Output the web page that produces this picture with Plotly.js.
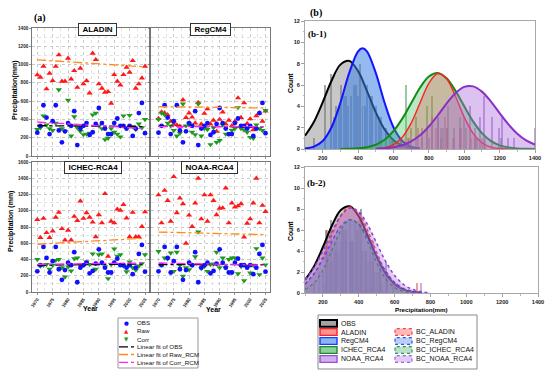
<!DOCTYPE html>
<html><head><meta charset="utf-8">
<script src="https://cdn.plot.ly/plotly-3.0.1.min.js"></script>
<style>html,body{margin:0;padding:0;background:#fff}#chart{width:550px;height:375px}</style>
</head><body><div id="chart"></div>
<script>
// ---------------- DATA: panel (a) ----------------
const years = [1970,1971,1972,1973,1974,1975,1976,1977,1978,1979,1980,1981,1982,1983,1984,1985,1986,1987,1988,1989,1990,1991,1992,1993,1994,1995,1996,1997,1998,1999,2000,2001,2002,2003,2004,2005];
const obs = [255,330,555,420,240,380,555,280,150,270,360,330,490,120,300,330,360,230,260,350,525,360,300,240,240,360,410,330,330,300,330,220,300,470,580,250];

const aladinRaw  = [886,860,981,733,904,824,980,1105,817,817,1068,842,933,750,959,788,824,689,1123,1054,788,740,696,703,576,890,817,776,890,970,915,1043,740,788,853,981];
const aladinCorr = [290,310,440,340,300,280,360,725,300,270,610,220,430,310,270,235,240,250,450,470,330,300,180,195,300,260,240,210,440,300,445,320,290,350,310,400];
const regcmRaw   = [410,480,470,450,380,350,340,325,615,420,470,425,360,585,350,465,515,350,390,270,400,480,350,390,330,380,635,420,580,355,405,285,440,470,380,490];
const regcmCorr  = [400,470,450,360,330,280,220,250,570,330,350,260,235,570,220,300,290,125,310,150,170,340,240,240,280,300,530,300,285,260,205,195,340,300,280,500];
const ichecRaw   = [890,670,905,730,670,750,920,980,780,640,760,640,930,880,1120,905,975,920,860,680,950,850,1210,440,870,850,1020,1005,1075,910,680,980,680,680,805,985];
const ichecCorr  = [400,320,330,340,280,330,390,400,300,185,310,260,410,420,330,330,370,340,470,280,460,470,310,165,340,530,440,460,320,250,370,300,270,320,350,460];
const noaaRaw    = [1195,850,1250,1125,870,1420,975,1155,1085,600,945,805,1095,1400,900,1195,870,1195,1125,950,1030,1035,1280,850,1095,1045,1060,1085,675,845,900,1095,1400,850,1065,990];
const noaaCorr   = [500,335,420,410,480,255,490,330,195,300,275,330,435,740,290,315,255,340,345,490,300,420,300,400,420,420,225,315,140,320,235,330,535,215,420,335];

// linear fit end points
const fitYears = [1970, 2005];
const aladinFitObs = [332, 322], aladinFitRaw = [1052, 975], aladinFitCorr = [372, 300];
const regcmFitObs  = [326, 318], regcmFitRaw  = [540, 525],  regcmFitCorr  = [322, 322];
const ichecFitObs  = [330, 345], ichecFitRaw  = [588, 662],  ichecFitCorr  = [340, 358];
const noaaFitObs   = [336, 336], noaaFitRaw   = [738, 706],  noaaFitCorr   = [357, 330];

const panelNames = ['ALADIN', 'RegCM4', 'ICHEC-RCA4', 'NOAA-RCA4'];

// ---------------- DATA: panel (b) ----------------
// b-1 histogram bars (bin centre, count)
const obsBarX = [150,215,245,275,305,330,360,390,410,440,480,520,555,590];
const obsBarY = [1,6,7,4,6,5,5,6,8,4,5,3,2,1];
const regBarX = [265,290,320,345,375,400,425,450,470,500,530,560,600,640];
const regBarY = [3,4,5,4,6,5,4,6,5,4,3,2,1,1];
const ichecBarX = [640,670,700,730,760,790,820,850,880,910,940,975,1010,1070,1210];
const ichecBarY = [1,6,2,3,2,4,5,3,2,4,2,3,2,1,1];
const aladinBarX = [580,690,740,760,790,820,840,870,890,905,935,980,1040,1060,1100,1120];
const aladinBarY = [1,1,2,1,2,3,2,1,3,2,1,2,1,1,1,1];
const noaaBarX = [600,680,800,850,870,900,945,975,1000,1030,1060,1090,1110,1155,1195,1215,1250,1280,1400];
const noaaBarY = [1,1,1,3,2,2,1,2,3,4,2,3,5,3,2,3,1,1,2];

// b-1 fitted curves
const obsCurveX = [100,150,200,250,300,350,400,450,500,550,600,650,700,750];
const obsCurveY = [1.24,2.53,4.38,6.40,7.91,8.26,7.30,5.45,3.44,1.83,0.83,0.32,0.10,0.03];
const regCurveX = [100,150,200,250,300,350,400,425,450,500,550,600,650,700,750];
const regCurveY = [0.05,0.22,0.75,2.04,4.33,7.13,9.16,9.45,9.16,7.13,4.33,2.04,0.75,0.22,0.05];
const ichecCurveX = [300,350,400,450,500,550,600,650,700,750,800,850,900,950,1000,1050,1100,1150,1200,1250,1300,1350,1400];
const ichecCurveY = [0.01,0.02,0.06,0.17,0.40,0.87,1.68,2.85,4.29,5.74,6.79,7.12,6.63,5.47,4.00,2.59,1.49,0.76,0.34,0.14,0.05,0.02,0.00];
const aladinCurveX = [500,550,600,650,700,750,800,850,900,950,1000,1050,1100,1150,1200,1250];
const aladinCurveY = [0.03,0.12,0.41,1.11,2.43,4.31,6.15,7.08,6.58,4.94,2.99,1.46,0.58,0.18,0.05,0.01];
const noaaCurveX = [500,550,600,650,700,750,800,850,900,950,1000,1050,1100,1150,1200,1250,1300,1350,1400];
const noaaCurveY = [0.02,0.07,0.16,0.35,0.71,1.28,2.11,3.14,4.26,5.22,5.82,5.87,5.38,4.47,3.37,2.30,1.43,0.80,0.41];

// b-2 bias-corrected bars
const bcAladinBarX = [222,260,300,330,360,400,440,480,520,723];
const bcAladinBarY = [6,4,5,6,5,7,4,3,2,1];
const bcRegBarX = [200,240,280,320,350,380,420,460,500,553,616];
const bcRegBarY = [2,3,5,6,5,7,4,4,2,3,1];
const bcIchecBarX = [210,250,290,330,370,410,450,490,530];
const bcIchecBarY = [1,3,4,6,5,5,3,2,1];
const bcNoaaBarX = [180,230,270,310,350,390,430,470,510,560,745];
const bcNoaaBarY = [2,4,5,6,7,5,4,3,2,1,1];

// b-2 fitted curves
const bcAladinCurveX = [100,150,200,250,300,350,400,450,500,550,600,650,700,750];
const bcAladinCurveY = [0.79,1.81,3.46,5.52,7.36,8.19,7.62,5.93,3.85,2.09,0.95,0.36,0.11,0.03];
const bcRegCurveX = [100,150,200,250,300,350,400,450,500,550,600,650,700,750];
const bcRegCurveY = [0.87,1.82,3.24,4.92,6.35,6.99,6.56,5.24,3.57,2.07,1.03,0.43,0.16,0.05];
const bcIchecCurveX = [100,150,200,250,300,350,400,450,500,550,600,650,700];
const bcIchecCurveY = [0.33,0.95,2.19,4.04,5.95,6.97,6.51,4.85,2.88,1.36,0.51,0.15,0.04];
const bcNoaaCurveX = [100,150,200,250,300,350,400,450,500,550,600,650,700,750,800];
const bcNoaaCurveY = [1.27,2.41,4.01,5.81,7.34,8.08,7.75,6.49,4.73,3.01,1.67,0.81,0.34,0.12,0.04];

// ---------------- helpers ----------------
const W = 550, H = 375;
const PX = p => p / W, PY = p => 1 - p / H;
const SANS = 'Liberation Sans, Arial, sans-serif';
const SERIF = 'Liberation Serif, Times New Roman, serif';

const traces = [];
const panels = [
  {raw: aladinRaw, corr: aladinCorr, fo: aladinFitObs, fr: aladinFitRaw, fc: aladinFitCorr, xa: 'x',  ya: 'y'},
  {raw: regcmRaw,  corr: regcmCorr,  fo: regcmFitObs,  fr: regcmFitRaw,  fc: regcmFitCorr,  xa: 'x2', ya: 'y2'},
  {raw: ichecRaw,  corr: ichecCorr,  fo: ichecFitObs,  fr: ichecFitRaw,  fc: ichecFitCorr,  xa: 'x3', ya: 'y3'},
  {raw: noaaRaw,   corr: noaaCorr,   fo: noaaFitObs,   fr: noaaFitRaw,   fc: noaaFitCorr,   xa: 'x4', ya: 'y4'}
];
panels.forEach(p => {
  traces.push({x: years, y: p.raw, type: 'scatter', mode: 'markers', xaxis: p.xa, yaxis: p.ya,
    marker: {symbol: 'triangle-up', size: 5.5, color: '#ff1a1a', line: {width: 0}}});
  traces.push({x: years, y: p.corr, type: 'scatter', mode: 'markers', xaxis: p.xa, yaxis: p.ya,
    marker: {symbol: 'triangle-down', size: 5.5, color: '#1e9a1e', line: {width: 0}}});
  traces.push({x: years, y: obs, type: 'scatter', mode: 'markers', xaxis: p.xa, yaxis: p.ya,
    marker: {symbol: 'circle', size: 4.8, color: '#1010ff', line: {width: 0}}});
  traces.push({x: fitYears, y: p.fo, type: 'scatter', mode: 'lines', xaxis: p.xa, yaxis: p.ya,
    line: {color: '#000', width: 1.3, dash: 'dashdot'}});
  traces.push({x: fitYears, y: p.fr, type: 'scatter', mode: 'lines', xaxis: p.xa, yaxis: p.ya,
    line: {color: '#ff8c1a', width: 1.3, dash: 'dashdot'}});
  traces.push({x: fitYears, y: p.fc, type: 'scatter', mode: 'lines', xaxis: p.xa, yaxis: p.ya,
    line: {color: '#ff22ff', width: 1.3, dash: 'dashdot'}});
});

function bars(x, y, color, xa, ya) {
  traces.push({x: x, y: y, type: 'bar', width: 11, xaxis: xa, yaxis: ya,
    marker: {color: color, line: {width: 0}}});
}
function curve(x, y, line, fill, dash, xa, ya, w) {
  traces.push({x: x, y: y, type: 'scatter', mode: 'lines', xaxis: xa, yaxis: ya,
    line: {color: line, width: w || 1.8, shape: 'spline', smoothing: 1, dash: dash || 'solid'},
    fill: 'tozeroy', fillcolor: fill});
}
// b-1
bars(obsBarX, obsBarY, 'rgba(95,95,95,0.55)', 'x5', 'y5');
bars(regBarX, regBarY, 'rgba(40,100,200,0.5)', 'x5', 'y5');
bars(ichecBarX, ichecBarY, 'rgba(40,150,70,0.5)', 'x5', 'y5');
bars(aladinBarX, aladinBarY, 'rgba(220,60,60,0.45)', 'x5', 'y5');
bars(noaaBarX, noaaBarY, 'rgba(140,70,190,0.5)', 'x5', 'y5');
curve(obsCurveX, obsCurveY, '#000000', 'rgba(130,130,130,0.45)', 'solid', 'x5', 'y5', 2);
curve(regCurveX, regCurveY, '#1414ff', 'rgba(60,130,225,0.55)', 'solid', 'x5', 'y5', 2);
curve(ichecCurveX, ichecCurveY, '#138a13', 'rgba(70,195,100,0.38)', 'solid', 'x5', 'y5', 2);
curve(aladinCurveX, aladinCurveY, '#ff2020', 'rgba(235,80,80,0.30)', 'solid', 'x5', 'y5', 1.4);
curve(noaaCurveX, noaaCurveY, '#8a2fc8', 'rgba(170,110,220,0.42)', 'solid', 'x5', 'y5', 2);
// b-2
bars(obsBarX, obsBarY, 'rgba(95,95,95,0.55)', 'x6', 'y6');
bars(bcAladinBarX, bcAladinBarY, 'rgba(220,60,60,0.5)', 'x6', 'y6');
bars(bcRegBarX, bcRegBarY, 'rgba(60,110,190,0.5)', 'x6', 'y6');
bars(bcIchecBarX, bcIchecBarY, 'rgba(60,140,110,0.45)', 'x6', 'y6');
bars(bcNoaaBarX, bcNoaaBarY, 'rgba(140,80,190,0.45)', 'x6', 'y6');
curve(obsCurveX, obsCurveY, '#000000', 'rgba(130,130,130,0.45)', 'solid', 'x6', 'y6', 2);
curve(bcAladinCurveX, bcAladinCurveY, '#ff3030', 'rgba(250,110,120,0.35)', 'dot', 'x6', 'y6', 1.5);
curve(bcRegCurveX, bcRegCurveY, '#2030ff', 'rgba(80,120,220,0.35)', 'dot', 'x6', 'y6', 1.3);
curve(bcIchecCurveX, bcIchecCurveY, '#1a8a3a', 'rgba(80,170,130,0.3)', 'dot', 'x6', 'y6', 1.3);
curve(bcNoaaCurveX, bcNoaaCurveY, '#9040d0', 'rgba(170,110,220,0.35)', 'dot', 'x6', 'y6', 1.5);

// ---------------- axes ----------------
const tfA = {family: SANS, size: 4.6, color: '#222', weight: 'bold'};
function axA(dom, anchor, range, showLabels, isX, dtick) {
  const a = {domain: dom, anchor: anchor, range: range, showline: true, mirror: true, linecolor: '#555', linewidth: 0.8,
    showgrid: true, gridcolor: '#bdbdbd', griddash: 'dot', gridwidth: 0.8, zeroline: false,
    ticks: 'outside', ticklen: 2, tickcolor: '#555', tickwidth: 0.6, tickfont: tfA,
    showticklabels: showLabels, automargin: false, fixedrange: true, layer: 'below traces'};
  if (isX) {
    a.tick0 = 1970; a.dtick = 5; a.tickangle = -55;
    a.minor = {dtick: 2.5, tick0: 1970, showgrid: true, gridcolor: '#d6d6d6', griddash: 'dot', gridwidth: 0.7};
  } else {
    a.tick0 = 0; a.dtick = dtick;
    a.minor = {dtick: 100, showgrid: true, gridcolor: '#d6d6d6', griddash: 'dot', gridwidth: 0.7};
  }
  return a;
}
const tfB = {family: SANS, size: 5.6, color: '#222', weight: 'bold'};
function axB(dom, anchor, range, isX) {
  return {domain: dom, anchor: anchor, range: range, showline: true, mirror: true, linecolor: '#a8a8a8', linewidth: 1,
    showgrid: false, zeroline: false, ticks: 'outside', ticklen: 3, tickcolor: '#777', tickwidth: 0.7,
    tick0: isX ? 200 : 0, dtick: isX ? 200 : 2, tickfont: tfB, automargin: false, fixedrange: true,
    minor: {dtick: isX ? 100 : 1, ticks: 'outside', ticklen: 1.5, tickcolor: '#999'}};
}
const leftX = [1968.28, 2006.3], rightX = [1967.55, 2006.47];
const layout = {
  width: W, height: H, margin: {l: 0, r: 0, t: 0, b: 0}, showlegend: false, hovermode: false,
  paper_bgcolor: '#fff', plot_bgcolor: '#fff', barmode: 'overlay', bargap: 0,
  xaxis:  axA([PX(32), PX(149)], 'y',  leftX,  false, true),
  yaxis:  axA([PY(156), PY(28)], 'x',  [0, 1400], true, false, 200),
  xaxis2: axA([PX(151), PX(270)], 'y2', rightX, false, true),
  yaxis2: axA([PY(156), PY(28)], 'x2', [0, 1400], false, false, 200),
  xaxis3: axA([PX(32), PX(149)], 'y3', leftX,  true, true),
  yaxis3: axA([PY(292), PY(162)], 'x3', [0, 1600], true, false, 200),
  xaxis4: axA([PX(151), PX(270)], 'y4', rightX, true, true),
  yaxis4: axA([PY(292), PY(162)], 'x4', [0, 1600], false, false, 200),
  xaxis5: axB([PX(305), PX(535)], 'y5', [100, 1400], true),
  yaxis5: axB([PY(149), PY(21)], 'x5', [0, 12], false),
  xaxis6: axB([PX(305), PX(538)], 'y6', [100, 1400], true),
  yaxis6: axB([PY(293), PY(167)], 'x6', [0, 12], false)
};

// ---------------- annotations & shapes ----------------
const ann = [];
function txt(t, x, y, font, extra) {
  ann.push(Object.assign({text: t, x: PX(x), y: PY(y), xref: 'paper', yref: 'paper', showarrow: false,
    xanchor: 'center', yanchor: 'middle', font: font}, extra || {}));
}
const boldSerif = s => ({family: SERIF, size: s, color: '#000', weight: 'bold'});
const boldSans = s => ({family: SANS, size: s, color: '#000', weight: 'bold'});
txt('(a)', 40, 18, boldSerif(10));
txt('(b)', 316, 13, boldSerif(10));
txt('(b-1)', 317, 34, boldSerif(9));
txt('(b-2)', 316, 183, boldSerif(9));
const boxStyle = {bgcolor: '#fff', bordercolor: '#333', borderwidth: 1, borderpad: 1.2};
const nb = '\u00a0';
txt(nb + panelNames[0] + nb, 97, 29, boldSans(8), boxStyle);
txt(nb + panelNames[1] + nb, 210, 29, boldSans(8), boxStyle);
txt(nb + panelNames[2] + nb, 92.5, 167.5, boldSans(8), boxStyle);
txt(nb + panelNames[3] + nb, 209, 167.5, boldSans(8), boxStyle);
txt('Precipitation(mm)', 15, 90, boldSans(7), {textangle: -90});
txt('Precipitation (mm)', 11, 222, boldSans(7), {textangle: -90});
txt('Year', 90, 308, boldSans(7));
txt('Year', 213, 309, boldSans(7));
txt('Count', 290, 83, boldSans(6.8), {textangle: -90});
txt('Count', 290, 231, boldSans(6.8), {textangle: -90});
txt('Precipitation(mm)', 422, 309, boldSans(6.2));

const shapes = [];
function rect(x0, y0, x1, y1, line, fill) {
  shapes.push({type: 'rect', xref: 'paper', yref: 'paper', x0: PX(x0), x1: PX(x1), y0: PY(y1), y1: PY(y0),
    line: line, fillcolor: fill || 'rgba(0,0,0,0)', layer: 'above'});
}
function seg(x0, x1, y, line) {
  shapes.push({type: 'line', xref: 'paper', yref: 'paper', x0: PX(x0), x1: PX(x1), y0: PY(y), y1: PY(y), line: line, layer: 'above'});
}
// legend (a)
rect(118, 318, 198, 368, {color: '#999', width: 1}, '#fff');
const legA = ['OBS', 'Raw', 'Corr', 'Linear fit of OBS', 'Linear fit of Raw_RCM', 'Linear fit of Corr_RCM'];
const rowsA = [322.7, 330.7, 339, 346.8, 354.5, 362.3];
const legFontA = {family: SANS, size: 6.2, color: '#111'};
txt('\u25CF', 126, rowsA[0], {family: 'DejaVu Sans', size: 5.5, color: '#1010ff'});
txt('\u25B2', 126, rowsA[1], {family: 'DejaVu Sans', size: 5.5, color: '#ff1a1a'});
txt('\u25BC', 126, rowsA[2], {family: 'DejaVu Sans', size: 5.5, color: '#1e9a1e'});
seg(119, 134, rowsA[3], {color: '#000', width: 1.3, dash: 'dashdot'});
seg(119, 134, rowsA[4], {color: '#ff8c1a', width: 1.3, dash: 'dashdot'});
seg(119, 134, rowsA[5], {color: '#ff22ff', width: 1.3, dash: 'dashdot'});
legA.forEach((t, i) => txt(t, 135, rowsA[i], legFontA, {xanchor: 'left'}));

// legend (b)
rect(318, 315, 477, 369, {color: '#8a8a8a', width: 1}, '#fff');
const rowsB = [323.3, 332, 341, 350, 359];
const legFontB = {family: SANS, size: 7, color: '#111'};
const legB1 = ['OBS', 'ALADIN', 'RegCM4', 'ICHEC_RCA4', 'NOAA_RCA4'];
const legB2 = ['BC_ALADIN', 'BC_RegCM4', 'BC_ICHEC_RCA4', 'BC_NOAA_RCA4'];
const sw1 = [
  [{color: '#000', width: 2}, '#a3a3a3'],
  [{color: '#ff2020', width: 1.4}, 'rgba(255,110,110,0.75)'],
  [{color: '#1a3cff', width: 1.4}, 'rgba(100,155,235,0.75)'],
  [{color: '#1a8a2a', width: 1.4}, 'rgba(100,195,120,0.75)'],
  [{color: '#9b4fd0', width: 1.4}, 'rgba(195,150,235,0.75)']
];
const sw2 = [
  [{color: '#ff4040', width: 1.2, dash: 'dot'}, 'rgba(255,140,140,0.6)'],
  [{color: '#3050ff', width: 1.2, dash: 'dot'}, 'rgba(140,175,235,0.6)'],
  [{color: '#2a9a4a', width: 1.2, dash: 'dot'}, 'rgba(140,205,165,0.6)'],
  [{color: '#a060e0', width: 1.2, dash: 'dot'}, 'rgba(205,170,240,0.6)']
];
legB1.forEach((t, i) => {
  rect(320, rowsB[i] - 3.4, 337, rowsB[i] + 3.4, sw1[i][0], sw1[i][1]);
  txt(t, 339, rowsB[i], legFontB, {xanchor: 'left'});
});
legB2.forEach((t, i) => {
  rect(395, rowsB[i + 1] - 3.4, 412, rowsB[i + 1] + 3.4, sw2[i][0], sw2[i][1]);
  txt(t, 414, rowsB[i + 1], legFontB, {xanchor: 'left'});
});

layout.annotations = ann;
layout.shapes = shapes;
Plotly.newPlot('chart', traces, layout, {staticPlot: true, displayModeBar: false});
</script>
</body></html>
